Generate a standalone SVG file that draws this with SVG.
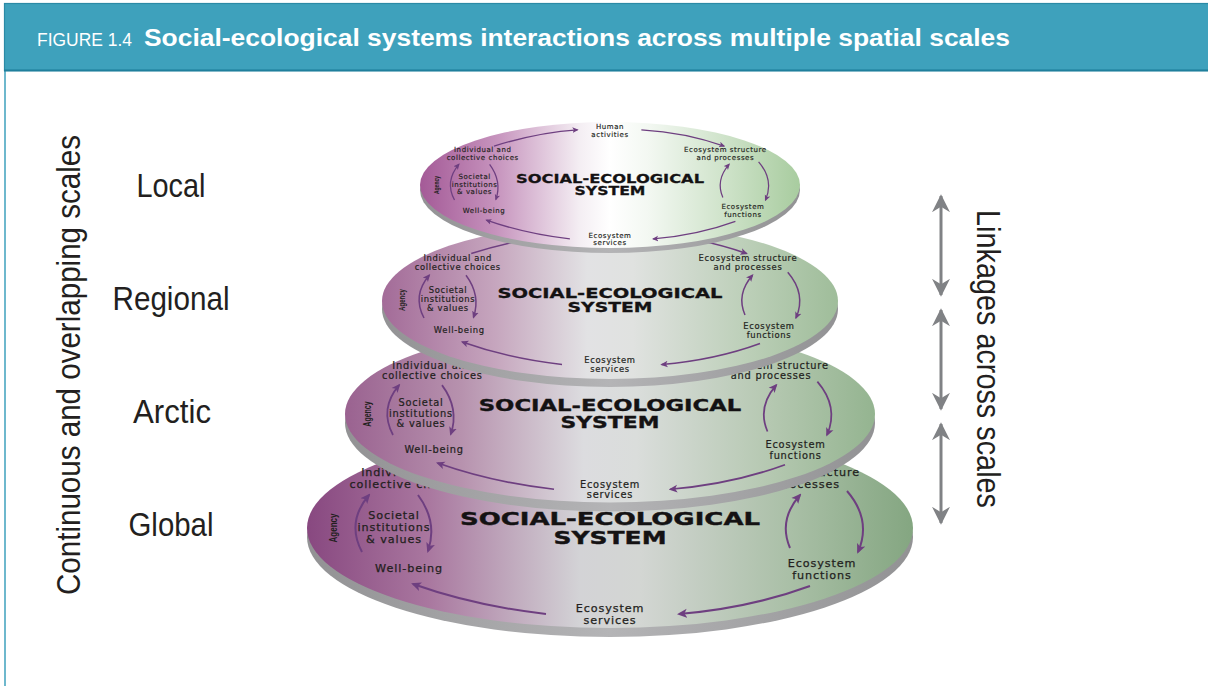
<svg xmlns="http://www.w3.org/2000/svg" width="1208" height="686" viewBox="0 0 1208 686">
<style>
.t{font-family:"DejaVu Sans",sans-serif;font-size:11.2px;letter-spacing:0.9px;fill:#231f20;stroke:#231f20;stroke-width:0.25px;text-anchor:middle}
.big{font-family:"DejaVu Sans",sans-serif;font-weight:bold;font-size:18.5px;fill:#141213;stroke:#141213;stroke-width:0.4px;text-anchor:middle}
.ag{font-family:"Liberation Sans Narrow","Liberation Sans",sans-serif;font-weight:bold;font-size:11.5px;fill:#231f20;text-anchor:middle}
.arr{fill:none;stroke:#6e3f80;stroke-width:2;marker-end:url(#ph)}
.band{fill:url(#gBand)}
.lab{font-family:"Liberation Sans Narrow","Liberation Sans",sans-serif;font-size:33px;fill:#231f20;text-anchor:middle}
.link{stroke:#808285;stroke-width:3;marker-start:url(#gh);marker-end:url(#gh)}
</style>
<defs>
<marker id="ph" viewBox="0 0 10 10" refX="8" refY="5" markerWidth="5" markerHeight="5" markerUnits="strokeWidth" orient="auto"><path d="M0,0.5 L10,5 L0,9.5 L2.5,5 Z" fill="#6e3f80"/></marker>
<marker id="gh" viewBox="0 0 10 10" refX="9" refY="5" markerWidth="6" markerHeight="6" markerUnits="strokeWidth" orient="auto-start-reverse"><path d="M0,0 L10,5 L0,10 L3,5 Z" fill="#808285"/></marker>
<linearGradient id="gBand" x1="0" y1="0" x2="1" y2="0"><stop offset="0" stop-color="#929294"/><stop offset="0.5" stop-color="#b4b4b6"/><stop offset="1" stop-color="#929294"/></linearGradient>
<linearGradient id="gG" x1="0" y1="0" x2="1" y2="0"><stop offset="0" stop-color="#884880"/><stop offset="0.2" stop-color="#a9779f"/><stop offset="0.45" stop-color="#d3d3d6"/><stop offset="0.55" stop-color="#d3d6d3"/><stop offset="0.8" stop-color="#a9bfa6"/><stop offset="1" stop-color="#84a681"/></linearGradient>
<linearGradient id="gA" x1="0" y1="0" x2="1" y2="0"><stop offset="0" stop-color="#9a6290"/><stop offset="0.22" stop-color="#b792ae"/><stop offset="0.45" stop-color="#dcdcdf"/><stop offset="0.55" stop-color="#dadddb"/><stop offset="0.8" stop-color="#b5c8b1"/><stop offset="1" stop-color="#94b490"/></linearGradient>
<linearGradient id="gR" x1="0" y1="0" x2="1" y2="0"><stop offset="0" stop-color="#a36b98"/><stop offset="0.25" stop-color="#c6a6be"/><stop offset="0.45" stop-color="#e2e2e4"/><stop offset="0.55" stop-color="#e0e2e0"/><stop offset="0.8" stop-color="#bccfb8"/><stop offset="1" stop-color="#9fbd9a"/></linearGradient>
<linearGradient id="gL" x1="0" y1="0" x2="1" y2="0"><stop offset="0" stop-color="#a45a97"/><stop offset="0.2" stop-color="#c693bd"/><stop offset="0.42" stop-color="#f4eef3"/><stop offset="0.5" stop-color="#ffffff"/><stop offset="0.6" stop-color="#f3f8f2"/><stop offset="0.8" stop-color="#cfe3ca"/><stop offset="1" stop-color="#a8cc9f"/></linearGradient>
</defs>

<rect width="1208" height="686" fill="#ffffff"/>
<g id="frame">
<line x1="5" y1="70" x2="5" y2="686" stroke="#3ea1bc" stroke-width="1.5"/>
<rect x="4.5" y="3.5" width="1210" height="67" fill="#3ea1bc" stroke="#2b8aa6" stroke-width="1.2"/>
<line x1="4" y1="70.5" x2="1208" y2="70.5" stroke="#1f7f9c" stroke-width="2"/>
<text x="37" y="46" font-family="Liberation Sans Narrow,Liberation Sans,sans-serif" font-size="18" fill="#ffffff" textLength="95" lengthAdjust="spacingAndGlyphs">FIGURE 1.4</text>
<text x="144" y="46" font-family="Liberation Sans,sans-serif" font-weight="bold" font-size="24" fill="#ffffff" textLength="866" lengthAdjust="spacingAndGlyphs">Social-ecological systems interactions across multiple spatial scales</text>
</g>

<g id="scale-labels">
<text class="lab" transform="translate(80 365) rotate(-90)" x="0" y="0" textLength="460" lengthAdjust="spacingAndGlyphs">Continuous and overlapping scales</text>
<text class="lab" x="171" y="197" textLength="69" lengthAdjust="spacingAndGlyphs">Local</text>
<text class="lab" x="171" y="310" textLength="117" lengthAdjust="spacingAndGlyphs">Regional</text>
<text class="lab" x="172" y="423" textLength="78" lengthAdjust="spacingAndGlyphs">Arctic</text>
<text class="lab" x="171" y="536" textLength="85" lengthAdjust="spacingAndGlyphs">Global</text>
<text class="lab" transform="translate(977 359) rotate(90)" x="0" y="0" font-size="30" textLength="298" lengthAdjust="spacingAndGlyphs">Linkages across scales</text>
</g>

<g id="disc-global">
<ellipse class="band" cx="610" cy="537" rx="303" ry="100"/>
<ellipse cx="610" cy="528" rx="303" ry="100" fill="url(#gG)"/>
<g transform="translate(610 528)">
<g class="connectors">
<path class="arr" d="M -64,86 Q -135,78 -197,56"/>
<path class="arr" d="M 200,58 Q 140,80 69,86"/>
<path class="arr" d="M -248,24 Q -264,-6 -241,-33"/>
<path class="arr" d="M -192,-33 Q -172,-6 -182,23"/>
<path class="arr" d="M 180,20 Q 168,-8 190,-33"/>
<path class="arr" d="M 237,-37 Q 262,-8 248,24"/>
</g>
<text class="t" x="-203" y="-52">Individual and</text>
<text class="t" x="-203" y="-40">collective choices</text>
<text class="t" x="184" y="-52">Ecosystem structure</text>
<text class="t" x="184" y="-40">and processes</text>
<text class="ag" transform="translate(-273 0) rotate(-90)" textLength="29" lengthAdjust="spacingAndGlyphs">Agency</text>
<text class="t" x="-216" y="-9">Societal</text>
<text class="t" x="-216" y="3">institutions</text>
<text class="t" x="-216" y="15">&amp; values</text>
<text class="big" x="0" y="-3" textLength="300" lengthAdjust="spacingAndGlyphs">SOCIAL-ECOLOGICAL</text>
<text class="big" x="0" y="16" textLength="113" lengthAdjust="spacingAndGlyphs">SYSTEM</text>
<text class="t" x="-201" y="44">Well-being</text>
<text class="t" x="0" y="84">Ecosystem</text>
<text class="t" x="0" y="96">services</text>
<text class="t" x="212" y="39">Ecosystem</text>
<text class="t" x="212" y="51">functions</text>
</g>
</g>

<g id="disc-arctic">
<ellipse class="band" cx="610" cy="423" rx="265" ry="88.5"/>
<ellipse cx="610" cy="414" rx="265" ry="88.5" fill="url(#gA)"/>
<g transform="translate(610 414) scale(0.875)">
<g class="connectors">
<path class="arr" d="M -64,86 Q -135,78 -197,56"/>
<path class="arr" d="M 200,58 Q 140,80 69,86"/>
<path class="arr" d="M -248,24 Q -264,-6 -241,-33"/>
<path class="arr" d="M -192,-33 Q -172,-6 -182,23"/>
<path class="arr" d="M 180,20 Q 168,-8 190,-33"/>
<path class="arr" d="M 237,-37 Q 262,-8 248,24"/>
</g>
<text class="t" x="-203" y="-52">Individual and</text>
<text class="t" x="-203" y="-40">collective choices</text>
<text class="t" x="184" y="-52">Ecosystem structure</text>
<text class="t" x="184" y="-40">and processes</text>
<text class="ag" transform="translate(-273 0) rotate(-90)" textLength="29" lengthAdjust="spacingAndGlyphs">Agency</text>
<text class="t" x="-216" y="-9">Societal</text>
<text class="t" x="-216" y="3">institutions</text>
<text class="t" x="-216" y="15">&amp; values</text>
<text class="big" x="0" y="-3" textLength="300" lengthAdjust="spacingAndGlyphs">SOCIAL-ECOLOGICAL</text>
<text class="big" x="0" y="16" textLength="113" lengthAdjust="spacingAndGlyphs">SYSTEM</text>
<text class="t" x="-201" y="44">Well-being</text>
<text class="t" x="0" y="84">Ecosystem</text>
<text class="t" x="0" y="96">services</text>
<text class="t" x="212" y="39">Ecosystem</text>
<text class="t" x="212" y="51">functions</text>
</g>
</g>

<g id="disc-regional">
<ellipse class="band" cx="610" cy="309" rx="228" ry="78"/>
<ellipse cx="610" cy="301" rx="228" ry="78" fill="url(#gR)"/>
<g transform="translate(610 300) scale(0.75)">
<g class="connectors">
<path class="arr" d="M -185,-62 Q -115,-84 -52,-88"/>
<path class="arr" d="M 50,-88 Q 120,-84 182,-62"/>
<path class="arr" d="M -64,86 Q -135,78 -197,56"/>
<path class="arr" d="M 200,58 Q 140,80 69,86"/>
<path class="arr" d="M -248,24 Q -264,-6 -241,-33"/>
<path class="arr" d="M -192,-33 Q -172,-6 -182,23"/>
<path class="arr" d="M 180,20 Q 168,-8 190,-33"/>
<path class="arr" d="M 237,-37 Q 262,-8 248,24"/>
</g>
<text class="t" x="-203" y="-52">Individual and</text>
<text class="t" x="-203" y="-40">collective choices</text>
<text class="t" x="184" y="-52">Ecosystem structure</text>
<text class="t" x="184" y="-40">and processes</text>
<text class="ag" transform="translate(-273 0) rotate(-90)" textLength="29" lengthAdjust="spacingAndGlyphs">Agency</text>
<text class="t" x="-216" y="-9">Societal</text>
<text class="t" x="-216" y="3">institutions</text>
<text class="t" x="-216" y="15">&amp; values</text>
<text class="big" x="0" y="-3" textLength="300" lengthAdjust="spacingAndGlyphs">SOCIAL-ECOLOGICAL</text>
<text class="big" x="0" y="16" textLength="113" lengthAdjust="spacingAndGlyphs">SYSTEM</text>
<text class="t" x="-201" y="44">Well-being</text>
<text class="t" x="0" y="84">Ecosystem</text>
<text class="t" x="0" y="96">services</text>
<text class="t" x="212" y="39">Ecosystem</text>
<text class="t" x="212" y="51">functions</text>
</g>
</g>

<g id="disc-local">
<ellipse class="band" cx="610" cy="190" rx="190" ry="63"/>
<ellipse cx="610" cy="185" rx="190" ry="63" fill="url(#gL)"/>
<g transform="translate(610 185) scale(0.627)">
<g class="connectors">
<path class="arr" d="M -185,-62 Q -115,-84 -52,-88"/>
<path class="arr" d="M 50,-88 Q 120,-84 182,-62"/>
<path class="arr" d="M -64,86 Q -135,78 -197,56"/>
<path class="arr" d="M 200,58 Q 140,80 69,86"/>
<path class="arr" d="M -248,24 Q -264,-6 -241,-33"/>
<path class="arr" d="M -192,-33 Q -172,-6 -182,23"/>
<path class="arr" d="M 180,20 Q 168,-8 190,-33"/>
<path class="arr" d="M 237,-37 Q 262,-8 248,24"/>
</g>
<text class="t" x="0" y="-89">Human</text>
<text class="t" x="0" y="-77">activities</text>
<text class="t" x="-203" y="-52">Individual and</text>
<text class="t" x="-203" y="-40">collective choices</text>
<text class="t" x="184" y="-52">Ecosystem structure</text>
<text class="t" x="184" y="-40">and processes</text>
<text class="ag" transform="translate(-273 0) rotate(-90)" textLength="29" lengthAdjust="spacingAndGlyphs">Agency</text>
<text class="t" x="-216" y="-9">Societal</text>
<text class="t" x="-216" y="3">institutions</text>
<text class="t" x="-216" y="15">&amp; values</text>
<text class="big" x="0" y="-3" textLength="300" lengthAdjust="spacingAndGlyphs">SOCIAL-ECOLOGICAL</text>
<text class="big" x="0" y="16" textLength="113" lengthAdjust="spacingAndGlyphs">SYSTEM</text>
<text class="t" x="-201" y="44">Well-being</text>
<text class="t" x="0" y="84">Ecosystem</text>
<text class="t" x="0" y="96">services</text>
<text class="t" x="212" y="39">Ecosystem</text>
<text class="t" x="212" y="51">functions</text>
</g>
</g>

<g id="linkage-arrows">
<line class="link" x1="941" y1="196" x2="941" y2="295"/>
<line class="link" x1="941" y1="310" x2="941" y2="409"/>
<line class="link" x1="941" y1="424" x2="941" y2="523"/>
</g>
</svg>
